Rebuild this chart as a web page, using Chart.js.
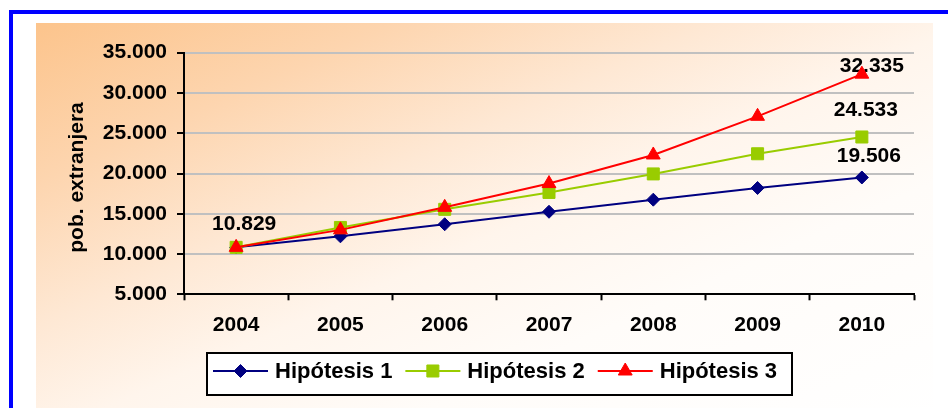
<!DOCTYPE html>
<html><head><meta charset="utf-8">
<script src="https://cdn.jsdelivr.net/npm/chart.js@4/dist/chart.umd.min.js"></script>
<style>
html,body{margin:0;padding:0;background:#fff;width:948px;height:408px;overflow:hidden;}
#frame{position:absolute;left:9px;top:10px;width:980px;height:420px;border-left:4px solid #0000FF;border-top:4px solid #0000FF;background:#fff;}
#bg{position:absolute;left:36px;top:23px;width:897px;height:400px;background:linear-gradient(to bottom right,#FCC48C 0%,#FDD5AF 20%,#FEE8D4 38%,#FFF5EC 52%,#FFFCF9 70%,#FFFFFF 100%);}
#wrap{position:absolute;left:0;top:0;width:948px;height:408px;}
</style></head><body>
<div id="frame"></div><div id="bg"></div>
<div id="wrap"><canvas id="c" width="948" height="408"></canvas></div>
<script>
const categories = ['2004','2005','2006','2007','2008','2009','2010'];
const hip1 = [10829, 12200, 13700, 15250, 16750, 18200, 19506];
const hip2 = [10829, 13300, 15550, 17650, 19950, 22450, 24533];
const hip3 = [10829, 13000, 15800, 18750, 22300, 27100, 32335];
const seriesNames = ['Hipótesis 1', 'Hipótesis 2', 'Hipótesis 3'];
const yTickValues = [5000, 10000, 15000, 20000, 25000, 30000, 35000];
const axisTitle = 'pob. extranjera';
// [datasetIndex, pointIndex] of the values printed on the chart
const valueLabels = [[2, 0], [2, 6], [1, 6], [0, 6]];

function fmt(v) { return String(Math.round(v)).replace(/\B(?=(\d{3})+(?!\d))/g, '.'); }

const FONT = "'Liberation Sans', Arial, sans-serif";
Chart.defaults.font.family = FONT;
Chart.defaults.color = '#000';

const colors = ['#000080', '#99CC00', '#FF0000'];
const styles = ['rectRot', 'rect', 'triangle'];
const radii = [6.5, 8.5, 8];

function marker(ctx, style, x, y, r, color) {
  ctx.save();
  ctx.fillStyle = color; ctx.strokeStyle = color; ctx.lineWidth = 1;
  ctx.beginPath();
  if (style === 'rectRot') { ctx.moveTo(x - r, y); ctx.lineTo(x, y - r); ctx.lineTo(x + r, y); ctx.lineTo(x, y + r); }
  else if (style === 'rect') { const s = r * Math.SQRT1_2; ctx.rect(x - s, y - s, 2 * s, 2 * s); }
  else { ctx.moveTo(x, y - r); ctx.lineTo(x + 0.866 * r, y + 0.5 * r); ctx.lineTo(x - 0.866 * r, y + 0.5 * r); }
  ctx.closePath(); ctx.fill(); ctx.stroke(); ctx.restore();
}

const labelOffsets = { '2,0': [8, -23], '2,6': [10, -8], '1,6': [4, -27], '0,6': [7, -21] };

const valueLabelPlugin = {
  id: 'valueLabels',
  beforeDatasetsDraw(chart) {
    const ctx = chart.ctx;
    ctx.save();
    ctx.font = 'bold 21px ' + FONT;
    ctx.fillStyle = '#000';
    ctx.textAlign = 'center';
    ctx.textBaseline = 'middle';
    valueLabels.forEach(([d, i]) => {
      const pt = chart.getDatasetMeta(d).data[i];
      const off = labelOffsets[d + ',' + i];
      ctx.fillText(fmt(chart.data.datasets[d].data[i]), pt.x + off[0], pt.y + off[1]);
    });
    // y axis title
    ctx.translate(77.5, 177.5);
    ctx.rotate(-Math.PI / 2);
    ctx.fillText(axisTitle, 0, 0);
    ctx.restore();
  }
};

const legendPlugin = {
  id: 'boxLegend',
  afterDraw(chart) {
    const ctx = chart.ctx;
    ctx.save();
    ctx.fillStyle = '#FFFFFF';
    ctx.fillRect(207, 353, 585, 42);
    ctx.strokeStyle = '#000'; ctx.lineWidth = 2;
    ctx.strokeRect(207, 353, 585, 42);
    ctx.font = 'bold 22px ' + FONT;
    ctx.textBaseline = 'middle'; ctx.textAlign = 'left';
    let x = 213; const y = 371;
    chart.data.datasets.forEach((ds, k) => {
      ctx.strokeStyle = ds.borderColor; ctx.lineWidth = 2;
      ctx.beginPath(); ctx.moveTo(x, y); ctx.lineTo(x + 55, y); ctx.stroke();
      marker(ctx, ds.pointStyle, x + 27.5, y, ds.pointRadius, ds.borderColor);
      ctx.fillStyle = '#000';
      ctx.fillText(ds.label, x + 62, y + 1);
      x += 62 + ctx.measureText(ds.label).width + 13;
    });
    ctx.restore();
  }
};

const series = [hip1, hip2, hip3];
const datasets = series.map((d, k) => ({
  label: seriesNames[k],
  data: d,
  borderColor: colors[k],
  backgroundColor: colors[k],
  pointBackgroundColor: colors[k],
  pointBorderColor: colors[k],
  pointStyle: styles[k],
  pointRadius: radii[k],
  pointHoverRadius: radii[k],
  pointBorderWidth: 1,
  borderWidth: 2,
  tension: 0,
  order: 2 - k
}));

new Chart(document.getElementById('c'), {
  type: 'line',
  data: { labels: categories, datasets: datasets },
  plugins: [valueLabelPlugin, legendPlugin],
  options: {
    responsive: false,
    animation: false,
    events: [],
    layout: { padding: { top: 52.7, right: 34, bottom: 0, left: 0 } },
    plugins: { legend: { display: false }, tooltip: { enabled: false } },
    scales: {
      x: {
        type: 'category',
        offset: true,
        afterFit: s => { s.height = 113.7; },
        grid: { offset: true, drawOnChartArea: false, drawTicks: true, tickLength: 6, tickColor: '#000', tickWidth: 2 },
        border: { color: '#000', width: 2 },
        ticks: { padding: 12, font: { size: 21, weight: 'bold' }, color: '#000', maxRotation: 0, autoSkip: false }
      },
      y: {
        min: 5000, max: 35000,
        afterFit: s => { s.width = 184; },
        afterBuildTicks: s => { s.ticks = yTickValues.map(v => ({ value: v })); },
        grid: {
          color: c => (c.tick && c.tick.value === 5000) ? 'rgba(0,0,0,0)' : '#C0C0C0',
          lineWidth: 2, drawTicks: true, tickLength: 7, tickColor: '#000', tickWidth: 2
        },
        border: { color: '#000', width: 2 },
        ticks: { padding: 10, font: { size: 21, weight: 'bold' }, color: '#000', callback: v => fmt(v) },
        title: { display: false }
      }
    }
  }
});
</script>
</body></html>
